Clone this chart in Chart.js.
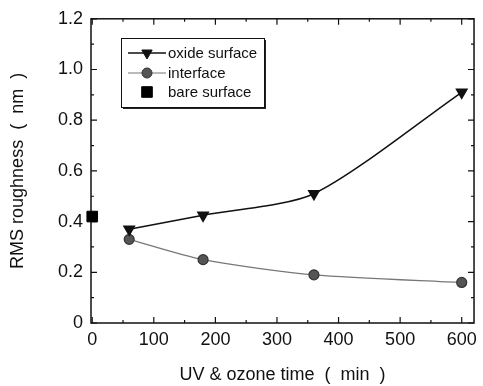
<!DOCTYPE html>
<html>
<head>
<meta charset="utf-8">
<script src="https://cdn.jsdelivr.net/npm/chart.js@4"></script>
<style>
  html, body { margin: 0; padding: 0; background: #fff; }
  #wrap { width: 483px; height: 386px; }
</style>
</head>
<body>
<div id="wrap"><canvas id="Chart" width="483" height="386"></canvas></div>
<script>
// data
var times = [60, 180, 360, 600];
var oxideSurface = [0.37, 0.425, 0.51, 0.91];
var interfaceRms = [0.33, 0.25, 0.19, 0.16];
var bareTime = [0];
var bareSurface = [0.42];
var seriesNames = ['oxide surface', 'interface', 'bare surface'];
var xTicks = [0, 100, 200, 300, 400, 500, 600];
var yTicks = [0, 0.2, 0.4, 0.6, 0.8, 1.0, 1.2];

function pts(xs, ys) {
    var out = [];
    for (var i = 0; i < xs.length; i++) out.push({x: xs[i], y: ys[i]});
    return out;
}

// frame + inward ticks on all four sides
var framePlugin = {
    id: 'frame',
    beforeDatasetsDraw: function(chart) {
        var ctx = chart.ctx, a = chart.chartArea;
        var xs = chart.scales.x, ys = chart.scales.y;
        ctx.save();
        ctx.strokeStyle = '#111';
        ctx.lineWidth = 1.5;
        ctx.strokeRect(a.left, a.top, a.right - a.left, a.bottom - a.top);
        ctx.lineWidth = 1.2;
        ctx.beginPath();
        for (var v = 0; v <= 600; v += 50) {
            var px = xs.getPixelForValue(v);
            var len = (v % 100 === 0) ? 6 : 3;
            ctx.moveTo(px, a.bottom); ctx.lineTo(px, a.bottom - len);
            ctx.moveTo(px, a.top); ctx.lineTo(px, a.top + len);
        }
        for (var k = 0; k <= 12; k++) {
            var py = ys.getPixelForValue(k / 10);
            var l2 = (k % 2 === 0) ? 6 : 3;
            ctx.moveTo(a.left, py); ctx.lineTo(a.left + l2, py);
            ctx.moveTo(a.right, py); ctx.lineTo(a.right - l2, py);
        }
        ctx.stroke();
        ctx.restore();
    }
};

// legend box inside the plot, with a drop shadow
var boxLegend = {
    id: 'boxLegend',
    afterDraw: function(chart) {
        var ctx = chart.ctx;
        var x0 = 121, y0 = 38, w = 143, h = 69;
        ctx.save();
        ctx.fillStyle = '#222';
        ctx.fillRect(x0 + 2, y0 + 2, w, h);
        ctx.fillStyle = '#fff';
        ctx.fillRect(x0, y0, w, h);
        ctx.strokeStyle = '#111';
        ctx.lineWidth = 1;
        ctx.strokeRect(x0 + 0.5, y0 + 0.5, w, h);
        ctx.font = '15px "Liberation Sans", Arial, sans-serif';
        ctx.textBaseline = 'middle';
        var rows = [53, 73, 92];
        chart.data.datasets.forEach(function(ds, i) {
            var y = rows[i];
            if (ds.showLine !== false) {
                ctx.strokeStyle = ds.borderColor;
                ctx.lineWidth = ds.borderWidth;
                ctx.beginPath();
                ctx.moveTo(128, y); ctx.lineTo(166, y);
                ctx.stroke();
            }
            ctx.fillStyle = ds.pointBackgroundColor;
            ctx.strokeStyle = ds.pointBorderColor;
            ctx.lineWidth = 1;
            Chart.helpers.drawPoint(ctx, {
                pointStyle: ds.pointStyle,
                radius: ds.pointRadius,
                rotation: ds.pointRotation || 0,
                borderWidth: 1
            }, 147, y);
            ctx.fillStyle = '#111';
            ctx.fillText(ds.label, 168, y + 1);
        });
        ctx.restore();
    }
};

var data = {
    datasets: [
        {
            label: seriesNames[0],
            data: pts(times, oxideSurface),
            borderColor: '#111',
            borderWidth: 1.5,
            tension: 0.25,
            pointStyle: 'triangle',
            pointRotation: 180,
            pointRadius: 6,
            pointBackgroundColor: '#111',
            pointBorderColor: '#111',
            clip: false
        },
        {
            label: seriesNames[1],
            data: pts(times, interfaceRms),
            borderColor: '#777',
            borderWidth: 1.2,
            tension: 0.25,
            pointStyle: 'circle',
            pointRadius: 5,
            pointBackgroundColor: '#555',
            pointBorderColor: '#333',
            clip: false
        },
        {
            label: seriesNames[2],
            data: pts(bareTime, bareSurface),
            showLine: false,
            borderColor: '#000',
            borderWidth: 1,
            pointStyle: 'rect',
            pointRadius: 7.5,
            pointBackgroundColor: '#000',
            pointBorderColor: '#000',
            clip: false
        }
    ]
};

var fam = '"Liberation Sans", Arial, sans-serif';
var ctx = document.getElementById('Chart');
var newChart = new Chart(ctx, {
    type: 'line',
    data: data,
    plugins: [framePlugin, boxLegend],
    options: {
        responsive: false,
        animation: false,
        layout: {padding: {top: 15, right: 8, left: 0, bottom: 0}},
        plugins: {legend: {display: false}, tooltip: {enabled: false}},
        scales: {
            x: {
                type: 'linear',
                min: -2,
                max: 620,
                afterBuildTicks: function(s) { s.ticks = xTicks.map(function(v) { return {value: v}; }); },
                afterFit: function(s) { s.height = 63; },
                grid: {display: false, drawTicks: false},
                border: {display: false},
                ticks: {color: '#111', padding: 6, font: {family: fam, size: 18}},
                title: {display: true, text: 'UV & ozone time  (  min  )', color: '#111',
                        font: {family: fam, size: 18}, padding: {top: 0, bottom: 0}}
            },
            y: {
                min: 0,
                max: 1.2,
                afterBuildTicks: function(s) { s.ticks = yTicks.map(function(v) { return {value: v}; }); },
                afterFit: function(s) { s.width = 91; },
                grid: {display: false, drawTicks: false},
                border: {display: false},
                ticks: {
                    color: '#111', padding: 8, font: {family: fam, size: 18},
                    callback: function(v) { return v === 0 ? '0' : v.toFixed(1); }
                },
                title: {display: true, text: 'RMS roughness  (  nm  )', color: '#111',
                        font: {family: fam, size: 18}, padding: {top: 7, bottom: 0}}
            }
        }
    }
});
</script>
</body>
</html>
